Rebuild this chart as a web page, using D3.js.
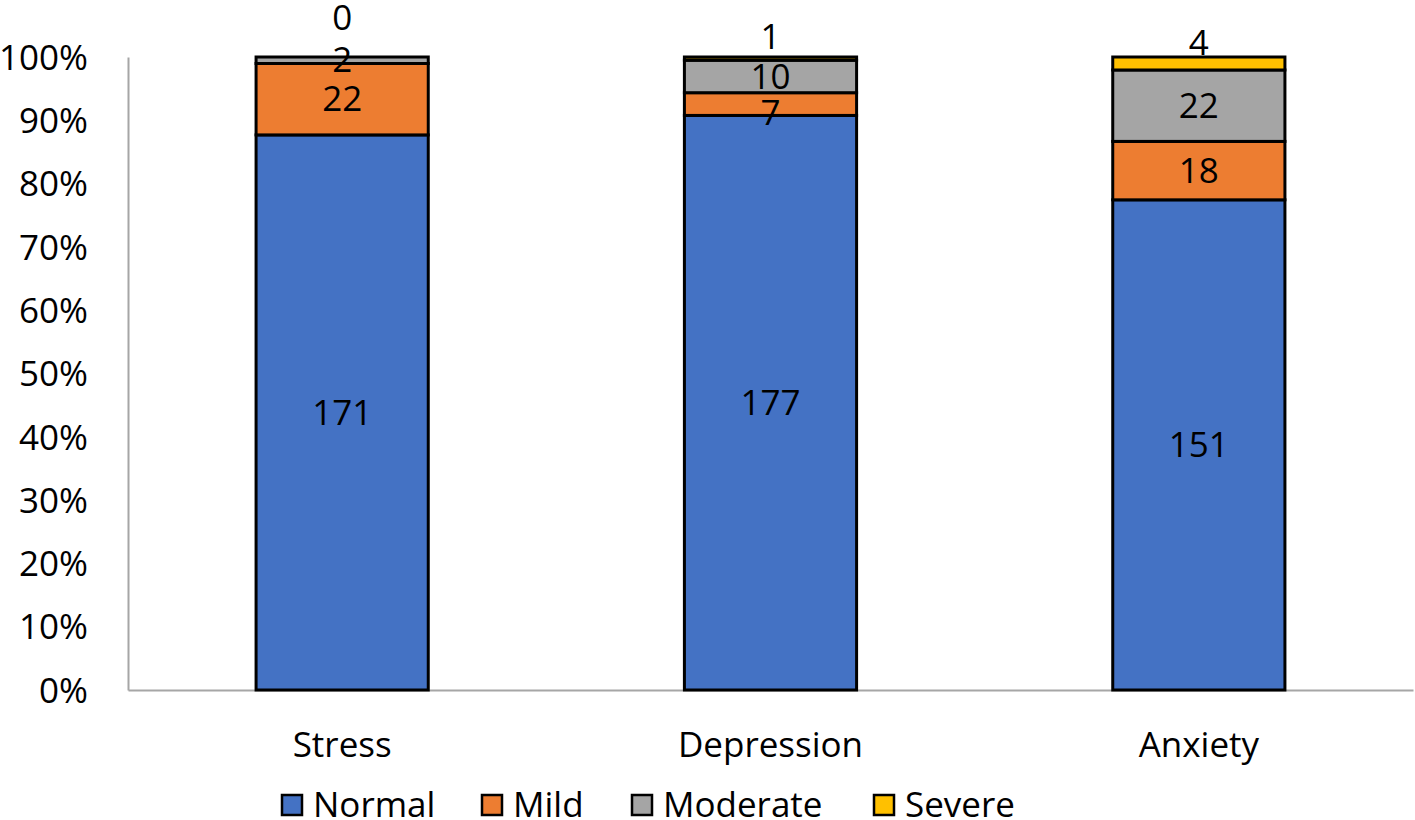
<!DOCTYPE html>
<html><head><meta charset="utf-8">
<script src="https://cdn.jsdelivr.net/npm/d3@7"></script>
<style>body{margin:0;background:#fff}svg{display:block}text{font-family:"Open Sans",sans-serif;fill:#000}</style>
</head><body><svg id="c" width="1415" height="820"></svg>
<script>
const categories = ["Stress", "Depression", "Anxiety"];
const seriesNames = ["Normal", "Mild", "Moderate", "Severe"];
const normal = [171, 177, 151];
const mild = [22, 7, 18];
const moderate = [2, 10, 22];
const severe = [0, 1, 4];
const yTicks = [0, 0.1, 0.2, 0.3, 0.4, 0.5, 0.6, 0.7, 0.8, 0.9, 1.0];
const colors = ["#4472C4", "#ED7D31", "#A5A5A5", "#FFC000"];
// label nudges for severe labels (placed above bars)
const severeLabelY = [18, 37, 43];

const svg = d3.select("#c");
const mLeft = 128, mRight = 1413, mTop = 57, mBottom = 690;
const FS = "35px";
const x = d3.scaleBand().domain(categories).range([mLeft, mRight]).paddingInner(0.598).paddingOuter(0.299);
const y = d3.scaleLinear().domain([0, 1]).range([mBottom, mTop]);

const rows = categories.map((c, i) => ({cat: c, Normal: normal[i], Mild: mild[i], Moderate: moderate[i], Severe: severe[i]}));
const stack = d3.stack().keys(seriesNames).offset(d3.stackOffsetExpand)(rows);

// axes
const yAxis = d3.axisLeft(y).tickValues(yTicks).tickFormat(d3.format(".0%")).tickSize(0).tickPadding(40);
const gy = svg.append("g").attr("transform", `translate(${mLeft},0)`).call(yAxis);
gy.select(".domain").attr("stroke", "#A6A6A6").attr("stroke-width", 2);
gy.selectAll("text").style("font-size", FS).attr("dy", "0.35em");

const xAxis = d3.axisBottom(x).tickSize(0).tickPadding(40);
const gx = svg.append("g").attr("transform", `translate(0,${mBottom})`).call(xAxis);
gx.select(".domain").attr("stroke", "#A6A6A6").attr("stroke-width", 2);
gx.selectAll("text").style("font-size", FS).attr("dy", "0.35em").attr("y", 55);

// bars
stack.forEach((s, si) => {
  svg.append("g").selectAll("rect").data(s).join("rect")
    .attr("x", d => x(d.data.cat))
    .attr("width", x.bandwidth())
    .attr("y", d => y(d[1]))
    .attr("height", d => y(d[0]) - y(d[1]))
    .attr("fill", colors[si])
    .attr("stroke", "#000").attr("stroke-width", 3);
});

// labels
stack.forEach((s, si) => {
  svg.append("g").selectAll("text").data(s).join("text")
    .attr("x", d => x(d.data.cat) + x.bandwidth() / 2)
    .attr("y", (d, i) => {
      if (si === 3) return severeLabelY[i];
      let c = (y(d[0]) + y(d[1])) / 2;
      if (si === 1 && d.data.cat === "Depression") c += 9;
      return c;
    })
    .attr("dy", "0.35em")
    .attr("text-anchor", "middle")
    .style("font-size", FS)
    .text(d => d.data[seriesNames[si]]);
});

// legend
const legendX = [282, 482, 632, 874];
const lg = svg.append("g");
seriesNames.forEach((n, i) => {
  lg.append("rect").attr("x", legendX[i]).attr("y", 795).attr("width", 20).attr("height", 20)
    .attr("fill", colors[i]).attr("stroke", "#000").attr("stroke-width", 2.5);
  lg.append("text").attr("x", legendX[i] + 31).attr("y", 817)
    .style("font-size", FS).text(n);
});
</script></body></html>
